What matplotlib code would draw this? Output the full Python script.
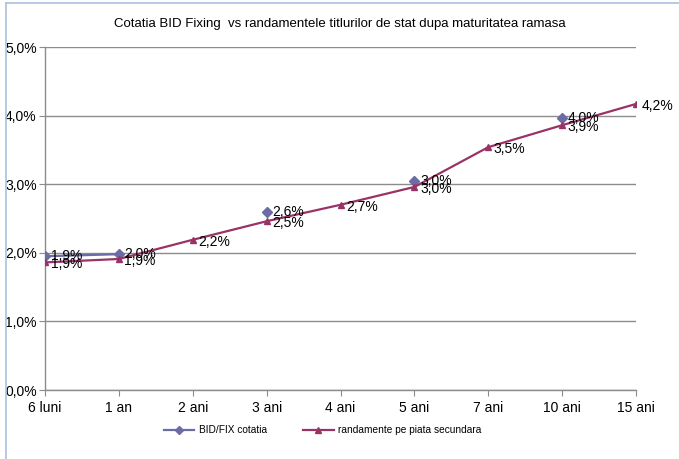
import numpy as np
import matplotlib.pyplot as plt
from matplotlib.lines import Line2D

plt.rcParams['font.family'] = ['Liberation Sans', 'DejaVu Sans']

maturitati = ['6 luni', '1 an', '2 ani', '3 ani', '4 ani', '5 ani', '7 ani', '10 ani', '15 ani']
bid_fix = [1.95, 1.98, np.nan, 2.59, np.nan, 3.05, np.nan, 3.96, np.nan]
randamente = [1.86, 1.91, 2.19, 2.46, 2.70, 2.96, 3.54, 3.86, 4.17]

c_bid = '#6b6ba5'
c_rand = '#993366'

fig = plt.figure(figsize=(6.79, 4.59), dpi=100)
ax = fig.add_axes([0.0663, 0.1503, 0.8704, 0.7473])

x = np.arange(len(maturitati))
ax.plot(x, bid_fix, color=c_bid, marker='D', markersize=5, lw=1.6, zorder=3)
ax.plot(x, randamente, color=c_rand, marker='^', markersize=4.5, lw=1.6, zorder=4)

def pct(v):
    return f'{v:.1f}%'.replace('.', ',')

for xi, v in zip(x, bid_fix):
    if not np.isnan(v):
        ax.annotate(pct(v), (xi, v), xytext=(4, 0), textcoords='offset points',
                    va='center', ha='left', fontsize=10, color='black', zorder=5)
for xi, v in zip(x, randamente):
    ax.annotate(pct(v), (xi, v), xytext=(4, -1.5), textcoords='offset points',
                va='center', ha='left', fontsize=10, color='black', zorder=5)

ax.set_xlim(0, len(maturitati) - 1)
ax.set_ylim(0, 5)
ax.set_xticks(x)
ax.set_xticklabels(maturitati, fontsize=10)
ax.set_yticks(np.arange(0, 6))
ax.set_yticklabels([pct(v) for v in np.arange(0, 6)], fontsize=10)
ax.grid(axis='y', color='#8c8c8c', lw=1)
ax.set_axisbelow(True)
for s in ['top', 'right']:
    ax.spines[s].set_visible(False)
for s in ['left', 'bottom']:
    ax.spines[s].set_color('#8c8c8c')
    ax.spines[s].set_linewidth(1)
ax.tick_params(axis='y', color='#8c8c8c', length=4, pad=2)
ax.tick_params(axis='x', color='#8c8c8c', length=4, pad=4)

fig.text(0.5, 0.948, 'Cotatia BID Fixing  vs randamentele titlurilor de stat dupa maturitatea ramasa',
         ha='center', va='center', fontsize=9.5)

handles = [
    Line2D([], [], color=c_bid, marker='D', markersize=4, lw=1.6),
    Line2D([], [], color=c_rand, marker='^', markersize=5, lw=1.6),
]
fig.legend(handles, ['BID/FIX cotatia', 'randamente pe piata secundara'],
           loc='center', bbox_to_anchor=(0.475, 0.063), ncol=2, frameon=False,
           fontsize=7.3, handlelength=3, columnspacing=3.6, handletextpad=0.4)

# chart area border (left and top edges)
fig.add_artist(Line2D([0.0088, 0.0088], [0, 0.994], color='#a9c0e0', lw=1.2))
fig.add_artist(Line2D([0.0088, 1], [0.994, 0.994], color='#a9c0e0', lw=1.2))

fig.savefig('out.png', dpi=100)
